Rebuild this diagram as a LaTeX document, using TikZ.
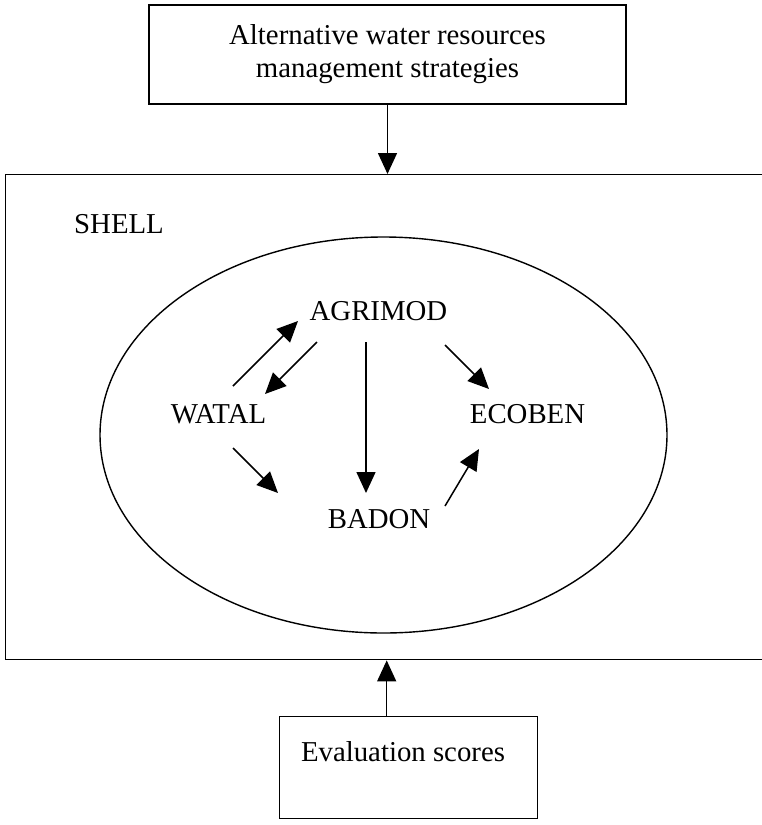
\documentclass[tikz,border=0pt]{standalone}
\usepackage{fontspec}
\setmainfont{Liberation Serif}
\usetikzlibrary{arrows.meta,shapes.geometric}

\tikzset{
  lbl/.style={font=\fontsize{28.8}{33}\selectfont, inner sep=0pt, anchor=base},
  framebox/.style={draw, line width=1.4pt, inner sep=0pt},
  arr/.style={line width=1.5pt, -{Triangle[length=21pt,width=19pt]}}
}

\begin{document}
\begin{tikzpicture}[x=1pt,y=-1pt]
  \useasboundingbox (0,0) rectangle (762,825);

  % input strategies box
  \node[framebox, minimum width=477pt, minimum height=99pt, align=center,
        font=\fontsize{28.8}{33}\selectfont] (strat) at (387.5,54.5)
        {Alternative water resources\\management strategies};

  % SHELL frame (runs off the right edge)
  \node[framebox, minimum width=761pt, minimum height=485pt, anchor=north west]
        (shell) at (5,174) {};
  \node[lbl] (shelllbl) at (119,233) {SHELL};

  % model ellipse
  \node[framebox, ellipse, minimum width=567pt, minimum height=396pt]
        (core) at (383.5,435) {};

  % models
  \node[lbl] (agrimod) at (378.5,320) {AGRIMOD};
  \node[lbl] (watal)   at (218.5,423) {WATAL};
  \node[lbl] (ecoben)  at (527.5,423) {ECOBEN};
  \node[lbl] (badon)   at (379,528)   {BADON};

  % evaluation box
  \node[framebox, minimum width=258pt, minimum height=102pt, anchor=north west]
        (evalbox) at (279,716) {};
  \node[lbl] (evaltext) at (403,761) {Evaluation scores};

  % flows into and out of the shell
  \draw[arr] (strat.south) -- (strat.south |- shell.north);
  \draw[arr] ([xshift=-22pt]evalbox.north) -- ([xshift=-22pt]evalbox.north |- shell.south);

  % links between models
  \draw[arr] ([shift={(14.5,-37)}]watal.base)   -- ([shift={(-80.5,1)}]agrimod.base);
  \draw[arr] ([shift={(-61.5,22)}]agrimod.base) -- ([shift={(46.5,-29)}]watal.base);
  \draw[arr] ([shift={(-12.5,22)}]agrimod.base) -- ([shift={(-13,-35)}]badon.base);
  \draw[arr] ([shift={(66.5,25)}]agrimod.base)  -- ([shift={(-38.5,-34)}]ecoben.base);
  \draw[arr] ([shift={(14.5,25)}]watal.base)    -- ([shift={(-101,-35)}]badon.base);
  \draw[arr] ([shift={(66,-22)}]badon.base)     -- ([shift={(-48.5,26)}]ecoben.base);
\end{tikzpicture}
\end{document}
